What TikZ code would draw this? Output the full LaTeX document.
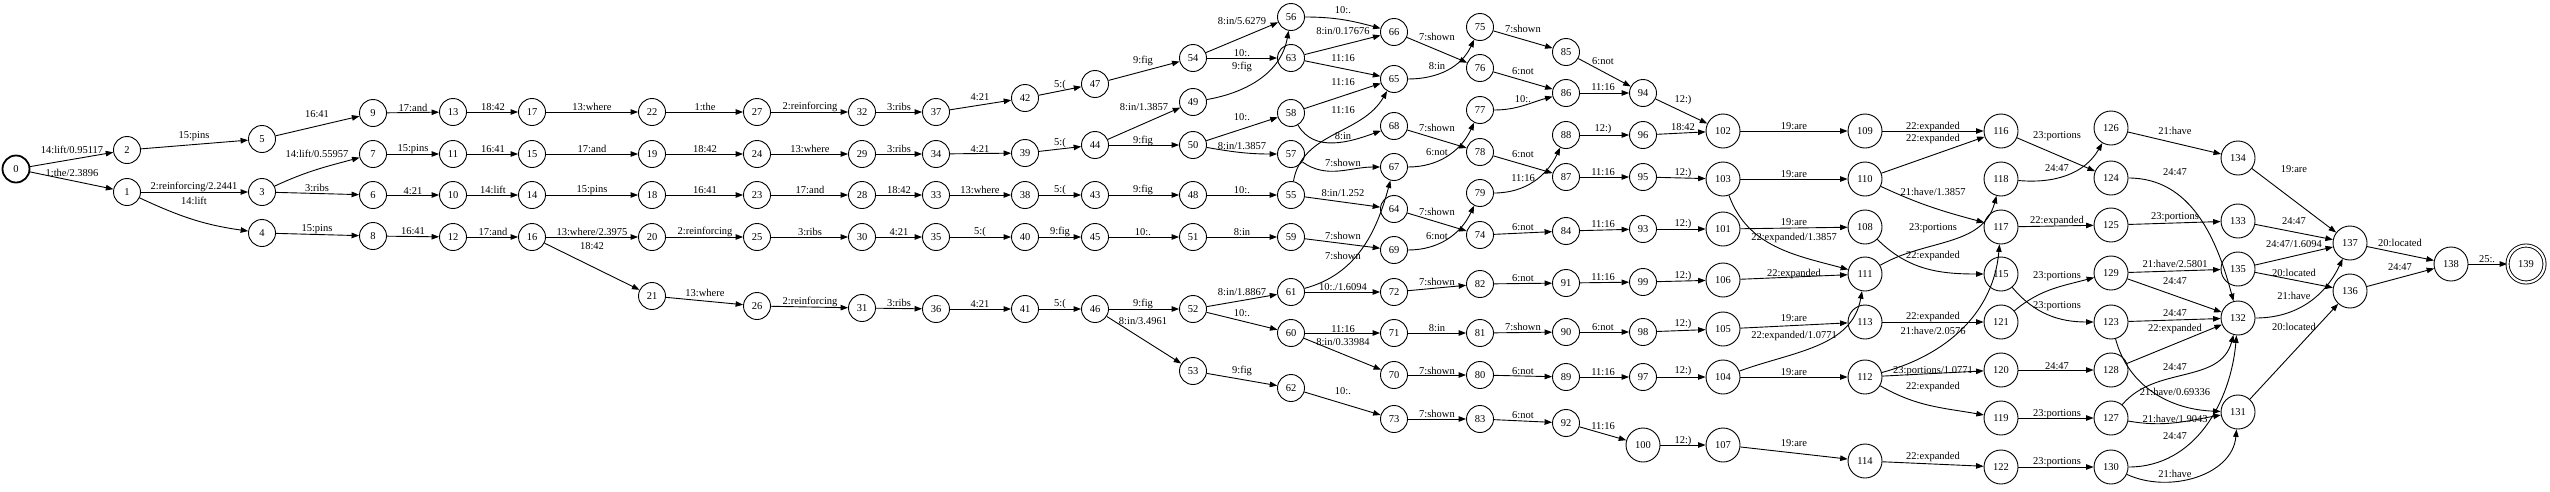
\documentclass[tikz,border=0pt]{standalone}
\usepackage{fontspec}
\setmainfont{Liberation Serif}
\usetikzlibrary{arrows.meta}

\begin{document}
\begin{tikzpicture}[x=1pt, y=-1pt, font=\fontsize{10.5}{12}\selectfont,
    state/.style={draw, circle, minimum size=27pt, inner sep=0pt, line width=0.9pt},
    bigstate/.style={state, minimum size=34pt},
    trans/.style={-{Triangle[length=7.5pt,width=5.5pt]}, line width=0.9pt},
    lab/.style={inner sep=0pt}]
    \useasboundingbox (0,0) rectangle (2550,491);

    \node[state, line width=1.8pt] (S0) at (16,169) {0};
    \foreach \n/\x/\y in {1/127/192, 2/127/150, 3/262/192, 4/262/233, 5/262/139,
      6/373/195, 7/373/154, 8/373/236, 9/373/113, 10/453/195, 11/453/154,
      12/453/237, 13/453/112, 14/532/195, 15/532/154, 16/532/237, 17/532/112,
      18/652/195, 19/652/154, 20/652/237, 21/652/296, 22/652/112, 23/757/195,
      24/757/154, 25/757/237, 26/757/306, 27/757/112, 28/862/195, 29/862/154,
      30/862/237, 31/862/308, 32/862/112, 33/936/195, 34/936/154, 35/936/237,
      36/936/309, 37/936/112, 38/1025/195, 39/1025/153, 40/1025/237, 41/1025/309,
      42/1025/98, 43/1095/195, 44/1095/145, 45/1095/237, 46/1095/309, 47/1095/84,
      48/1193/195, 49/1193/102, 50/1193/145, 51/1193/237, 52/1193/309, 53/1193/371,
      54/1193/58, 55/1291/195, 56/1291/17, 57/1291/154, 58/1291/113, 59/1291/237,
      60/1291/333, 61/1291/292, 62/1291/388, 63/1291/58, 64/1394/209, 65/1394/79,
      66/1394/32, 67/1394/167, 68/1394/126, 69/1394/250, 70/1394/375, 71/1394/333,
      72/1394/292, 73/1394/419, 74/1480/235, 75/1480/27, 76/1480/68, 77/1480/110,
      78/1480/152, 79/1480/193, 80/1480/375, 81/1480/333, 82/1480/284, 83/1480/419,
      84/1566/231, 85/1566/52, 86/1566/93, 87/1566/177, 88/1566/135, 89/1566/377,
      90/1566/332, 91/1566/283, 92/1566/423, 93/1643/229, 94/1643/93, 95/1643/177,
      96/1643/135, 97/1643/377, 98/1643/332, 99/1643/282}
      \node[state] (S\n) at (\x,\y) {\n};
    \foreach \n/\x/\y in {100/1643/445, 101/1723/229, 102/1723/131, 103/1723/179,
      104/1723/377, 105/1723/329, 106/1723/280, 107/1723/445, 108/1865/227,
      109/1865/131, 110/1865/179, 111/1865/274, 112/1865/377, 113/1865/322,
      114/1865/461, 115/2001/274, 116/2001/131, 117/2001/227, 118/2001/179,
      119/2001/418, 120/2001/370, 121/2001/322, 122/2001/467, 123/2111/322,
      124/2111/178, 125/2111/225, 126/2111/128, 127/2111/418, 128/2111/370,
      129/2111/273, 130/2111/467, 131/2238/412, 132/2238/318, 133/2238/221,
      134/2238/158, 135/2238/269, 136/2350/291, 137/2350/243, 138/2451/264}
      \node[bigstate] (S\n) at (\x,\y) {\n};
    \node[state, minimum size=37pt, double, double distance=2.2pt] (S139) at (2526,264) {139};

    \draw[trans] (S0) -- (S2) node[lab] at (72,150) {14:lift/0.95117};
    \draw[trans] (S0) -- (S1) node[lab] at (72,173) {1:the/2.3896};
    \draw[trans] (S1) -- (S3) node[lab] at (194,187) {2:reinforcing/2.2441};
    \draw[trans] (S1) to[out=-25,in=172] (S4) node[lab] at (194,201) {14:lift};
    \draw[trans] (S2) -- (S5) node[lab] at (194,136) {15:pins};
    \draw[trans] (S5) -- (S9) node[lab] at (317,114) {16:41};
    \draw[trans] (S3) to[out=25,in=195] (S7) node[lab] at (317,154) {14:lift/0.55957};
    \draw[trans] (S3) -- (S6) node[lab] at (317,188) {3:ribs};
    \draw[trans] (S4) -- (S8) node[lab] at (317,229) {15:pins};
    \draw[trans] (S9) -- (S13) node[lab] at (413,108) {17:and};
    \draw[trans] (S7) -- (S11) node[lab] at (413,149) {15:pins};
    \draw[trans] (S6) -- (S10) node[lab] at (413,191) {4:21};
    \draw[trans] (S8) -- (S12) node[lab] at (413,231) {16:41};

    \draw[trans] (S13) -- (S17) node[lab] at (493,107) {18:42};
    \draw[trans] (S17) -- (S22) node[lab] at (592,107) {13:where};
    \draw[trans] (S22) -- (S27) node[lab] at (705,107) {1:the};
    \draw[trans] (S27) -- (S32) node[lab] at (810,107) {2:reinforcing};
    \draw[trans] (S11) -- (S15) node[lab] at (493,149) {16:41};
    \draw[trans] (S15) -- (S19) node[lab] at (592,149) {17:and};
    \draw[trans] (S19) -- (S24) node[lab] at (705,149) {18:42};
    \draw[trans] (S24) -- (S29) node[lab] at (810,149) {13:where};
    \draw[trans] (S10) -- (S14) node[lab] at (493,190) {14:lift};
    \draw[trans] (S14) -- (S18) node[lab] at (592,190) {15:pins};
    \draw[trans] (S18) -- (S23) node[lab] at (705,190) {16:41};
    \draw[trans] (S23) -- (S28) node[lab] at (810,190) {17:and};
    \draw[trans] (S12) -- (S16) node[lab] at (493,232) {17:and};
    \draw[trans] (S16) -- (S20) node[lab] at (592,232) {13:where/2.3975};
    \draw[trans] (S16) -- (S21) node[lab] at (592,246) {18:42};
    \draw[trans] (S20) -- (S25) node[lab] at (705,232) {2:reinforcing};
    \draw[trans] (S25) -- (S30) node[lab] at (810,232) {3:ribs};
    \draw[trans] (S21) -- (S26) node[lab] at (705,293) {13:where};
    \draw[trans] (S26) -- (S31) node[lab] at (810,302) {2:reinforcing};

    \draw[trans] (S32) -- (S37) node[lab] at (899,107) {3:ribs};
    \draw[trans] (S37) -- (S42) node[lab] at (980,97) {4:21};
    \draw[trans] (S42) -- (S47) node[lab] at (1060,85) {5:(};
    \draw[trans] (S47) -- (S54) node[lab] at (1143,61) {9:fig};
    \draw[trans] (S29) -- (S34) node[lab] at (899,149) {3:ribs};
    \draw[trans] (S34) -- (S39) node[lab] at (980,149) {4:21};
    \draw[trans] (S39) -- (S44) node[lab] at (1060,143) {5:(};
    \draw[trans] (S44) -- (S49) node[lab] at (1144,107) {8:in/1.3857};
    \draw[trans] (S44) -- (S50) node[lab] at (1143,141) {9:fig};
    \draw[trans] (S28) -- (S33) node[lab] at (899,190) {18:42};
    \draw[trans] (S33) -- (S38) node[lab] at (980,190) {13:where};
    \draw[trans] (S38) -- (S43) node[lab] at (1060,190) {5:(};
    \draw[trans] (S43) -- (S48) node[lab] at (1143,190) {9:fig};
    \draw[trans] (S48) -- (S55) node[lab] at (1242,190) {10:.};
    \draw[trans] (S30) -- (S35) node[lab] at (899,232) {4:21};
    \draw[trans] (S35) -- (S40) node[lab] at (980,232) {5:(};
    \draw[trans] (S40) -- (S45) node[lab] at (1060,232) {9:fig};
    \draw[trans] (S45) -- (S51) node[lab] at (1143,232) {10:.};
    \draw[trans] (S51) -- (S59) node[lab] at (1242,232) {8:in};
    \draw[trans] (S31) -- (S36) node[lab] at (899,303) {3:ribs};
    \draw[trans] (S36) -- (S41) node[lab] at (980,304) {4:21};
    \draw[trans] (S41) -- (S46) node[lab] at (1060,304) {5:(};
    \draw[trans] (S46) -- (S52) node[lab] at (1143,304) {9:fig};
    \draw[trans] (S46) -- (S53) node[lab] at (1143,321) {8:in/3.4961};
    \draw[trans] (S54) -- (S56) node[lab] at (1242,21) {8:in/5.6279};
    \draw[trans] (S54) -- (S63) node[lab] at (1242,53) {10:.};
    \draw[trans] (S49) to[out=10,in=-100] (S56) node[lab] at (1242,67) {9:fig};
    \draw[trans] (S50) -- (S58) node[lab] at (1242,117) {10:.};
    \draw[trans] (S50) to[out=-10,in=180] (S57) node[lab] at (1242,146) {8:in/1.3857};
    \draw[trans] (S52) -- (S61) node[lab] at (1242,292) {8:in/1.8867};
    \draw[trans] (S52) -- (S60) node[lab] at (1242,313) {10:.};
    \draw[trans] (S53) -- (S62) node[lab] at (1242,371) {9:fig};

    \draw[trans] (S56) to[out=0,in=165] (S66) node[lab] at (1343,10) {10:.};
    \draw[trans] (S63) -- (S66) node[lab] at (1343,31) {8:in/0.17676};
    \draw[trans] (S63) -- (S65) node[lab] at (1343,58) {11:16};
    \draw[trans] (S58) -- (S65) node[lab] at (1343,82) {11:16};
    \draw[trans] (S55) to[out=80,in=-120] (S65) node[lab] at (1343,110) {11:16};
    \draw[trans] (S58) to[out=-60,in=200] (S68) node[lab] at (1343,136) {8:in};
    \draw[trans] (S57) to[out=-35,in=180] (S67) node[lab] at (1343,163) {7:shown};
    \draw[trans] (S55) -- (S64) node[lab] at (1343,193) {8:in/1.252};
    \draw[trans] (S59) -- (S69) node[lab] at (1343,236) {7:shown};
    \draw[trans] (S61) to[out=15,in=-105] (S67) node[lab] at (1343,256) {7:shown};
    \draw[trans] (S61) -- (S72) node[lab] at (1343,287) {10:./1.6094};
    \draw[trans] (S60) -- (S71) node[lab] at (1343,329) {11:16};
    \draw[trans] (S60) -- (S70) node[lab] at (1343,342) {8:in/0.33984};
    \draw[trans] (S62) -- (S73) node[lab] at (1343,391) {10:.};

    \draw[trans] (S66) -- (S76) node[lab] at (1437,37) {7:shown};
    \draw[trans] (S65) to[out=0,in=-115] (S75) node[lab] at (1437,66) {8:in};
    \draw[trans] (S68) -- (S78) node[lab] at (1437,128) {7:shown};
    \draw[trans] (S67) to[out=0,in=-115] (S77) node[lab] at (1437,152) {6:not};
    \draw[trans] (S64) -- (S74) node[lab] at (1437,212) {7:shown};
    \draw[trans] (S69) to[out=0,in=-115] (S79) node[lab] at (1437,236) {6:not};
    \draw[trans] (S72) -- (S82) node[lab] at (1437,282) {7:shown};
    \draw[trans] (S71) -- (S81) node[lab] at (1437,328) {8:in};
    \draw[trans] (S70) -- (S80) node[lab] at (1437,371) {7:shown};
    \draw[trans] (S73) -- (S83) node[lab] at (1437,414) {7:shown};
    \draw[trans] (S75) -- (S85) node[lab] at (1523,29) {7:shown};
    \draw[trans] (S76) -- (S86) node[lab] at (1523,71) {6:not};
    \draw[trans] (S77) to[out=0,in=195] (S86) node[lab] at (1523,99) {10:.};
    \draw[trans] (S78) -- (S87) node[lab] at (1523,154) {6:not};
    \draw[trans] (S79) to[out=0,in=-115] (S88) node[lab] at (1523,178) {11:16};
    \draw[trans] (S74) -- (S84) node[lab] at (1523,227) {6:not};
    \draw[trans] (S82) -- (S91) node[lab] at (1523,278) {6:not};
    \draw[trans] (S81) -- (S90) node[lab] at (1523,327) {7:shown};
    \draw[trans] (S80) -- (S89) node[lab] at (1523,371) {6:not};
    \draw[trans] (S83) -- (S92) node[lab] at (1523,415) {6:not};
    \draw[trans] (S85) -- (S94) node[lab] at (1603,61) {6:not};
    \draw[trans] (S86) -- (S94) node[lab] at (1603,87) {11:16};
    \draw[trans] (S88) -- (S96) node[lab] at (1603,129) {12:)};
    \draw[trans] (S87) -- (S95) node[lab] at (1603,172) {11:16};
    \draw[trans] (S84) -- (S93) node[lab] at (1603,224) {11:16};
    \draw[trans] (S91) -- (S99) node[lab] at (1603,277) {11:16};
    \draw[trans] (S90) -- (S98) node[lab] at (1603,327) {6:not};
    \draw[trans] (S89) -- (S97) node[lab] at (1603,372) {11:16};
    \draw[trans] (S92) -- (S100) node[lab] at (1603,426) {11:16};
    \draw[trans] (S94) -- (S102) node[lab] at (1683,100) {12:)};
    \draw[trans] (S96) -- (S102) node[lab] at (1683,127) {18:42};
    \draw[trans] (S95) -- (S103) node[lab] at (1683,173) {12:)};
    \draw[trans] (S93) -- (S101) node[lab] at (1683,224) {12:)};
    \draw[trans] (S99) -- (S106) node[lab] at (1683,276) {12:)};
    \draw[trans] (S98) -- (S105) node[lab] at (1683,324) {12:)};
    \draw[trans] (S97) -- (S104) node[lab] at (1683,371) {12:)};
    \draw[trans] (S100) -- (S107) node[lab] at (1683,441) {12:)};

    \draw[trans] (S102) -- (S109) node[lab] at (1794,126) {19:are};
    \draw[trans] (S103) -- (S110) node[lab] at (1794,174) {19:are};
    \draw[trans] (S101) -- (S108) node[lab] at (1794,222) {19:are};
    \draw[trans] (S103) to[out=-70,in=165] (S111) node[lab] at (1794,238) {22:expanded/1.3857};
    \draw[trans] (S106) -- (S111) node[lab] at (1794,274) {22:expanded};
    \draw[trans] (S105) -- (S113) node[lab] at (1794,318) {19:are};
    \draw[trans] (S104) to[out=20,in=-100] (S111) node[lab] at (1794,336) {22:expanded/1.0771};
    \draw[trans] (S104) -- (S112) node[lab] at (1794,372) {19:are};
    \draw[trans] (S107) -- (S114) node[lab] at (1794,443) {19:are};
    \draw[trans] (S109) -- (S116) node[lab] at (1933,127) {22:expanded};
    \draw[trans] (S110) -- (S116) node[lab] at (1933,139) {22:expanded};
    \draw[trans] (S110) to[out=-25,in=165] (S117) node[lab] at (1933,192) {21:have/1.3857};
    \draw[trans] (S111) to[out=30,in=-105] (S118) node[lab] at (1933,228) {23:portions};
    \draw[trans] (S108) to[out=-45,in=180] (S115) node[lab] at (1933,256) {22:expanded};
    \draw[trans] (S113) -- (S121) node[lab] at (1933,317) {22:expanded};
    \draw[trans] (S112) to[out=15,in=-95] (S117) node[lab] at (1933,331) {21:have/2.0576};
    \draw[trans] (S112) -- (S120) node[lab] at (1933,371) {23:portions/1.0771};
    \draw[trans] (S112) to[out=-30,in=170] (S119) node[lab] at (1933,387) {22:expanded};
    \draw[trans] (S114) -- (S122) node[lab] at (1933,457) {22:expanded};
    \draw[trans] (S116) -- (S124) node[lab] at (2057,136) {23:portions};
    \draw[trans] (S118) to[out=-5,in=-120] (S126) node[lab] at (2057,168) {24:47};
    \draw[trans] (S117) -- (S125) node[lab] at (2057,221) {22:expanded};
    \draw[trans] (S121) to[out=40,in=195] (S129) node[lab] at (2057,276) {23:portions};
    \draw[trans] (S115) to[out=-50,in=180] (S123) node[lab] at (2057,306) {23:portions};
    \draw[trans] (S120) -- (S128) node[lab] at (2057,366) {24:47};
    \draw[trans] (S119) -- (S127) node[lab] at (2057,414) {23:portions};
    \draw[trans] (S122) -- (S130) node[lab] at (2057,462) {23:portions};

    \draw[trans] (S126) -- (S134) node[lab] at (2175,131) {21:have};
    \draw[trans] (S124) to[out=0,in=105] (S132) node[lab] at (2175,172) {24:47};
    \draw[trans] (S125) -- (S133) node[lab] at (2175,217) {23:portions};
    \draw[trans] (S129) -- (S135) node[lab] at (2175,264) {21:have/2.5801};
    \draw[trans] (S129) -- (S132) node[lab] at (2175,281) {24:47};
    \draw[trans] (S123) -- (S132) node[lab] at (2175,313) {24:47};
    \draw[trans] (S128) -- (S132) node[lab] at (2175,329) {22:expanded};
    \draw[trans] (S127) to[out=50,in=-105] (S132) node[lab] at (2175,367) {24:47};
    \draw[trans] (S123) to[out=-75,in=178] (S131) node[lab] at (2175,392) {21:have/0.69336};
    \draw[trans] (S127) to[out=-10,in=190] (S131) node[lab] at (2175,419) {21:have/1.9043};
    \draw[trans] (S130) to[out=0,in=-95] (S132) node[lab] at (2175,436) {24:47};
    \draw[trans] (S130) to[out=-25,in=-95] (S131) node[lab] at (2175,474) {21:have};
    \draw[trans] (S134) -- (S137) node[lab] at (2294,169) {19:are};
    \draw[trans] (S133) -- (S137) node[lab] at (2294,221) {24:47};
    \draw[trans] (S135) -- (S137) node[lab] at (2294,244) {24:47/1.6094};
    \draw[trans] (S135) -- (S136) node[lab] at (2294,273) {20:located};
    \draw[trans] (S132) to[out=0,in=-115] (S137) node[lab] at (2294,296) {21:have};
    \draw[trans] (S131) -- (S136) node[lab] at (2294,327) {20:located};
    \draw[trans] (S137) -- (S138) node[lab] at (2400,243) {20:located};
    \draw[trans] (S136) -- (S138) node[lab] at (2400,267) {24:47};
    \draw[trans] (S138) -- (S139) node[lab] at (2487,259) {25:.};
\end{tikzpicture}
\end{document}
